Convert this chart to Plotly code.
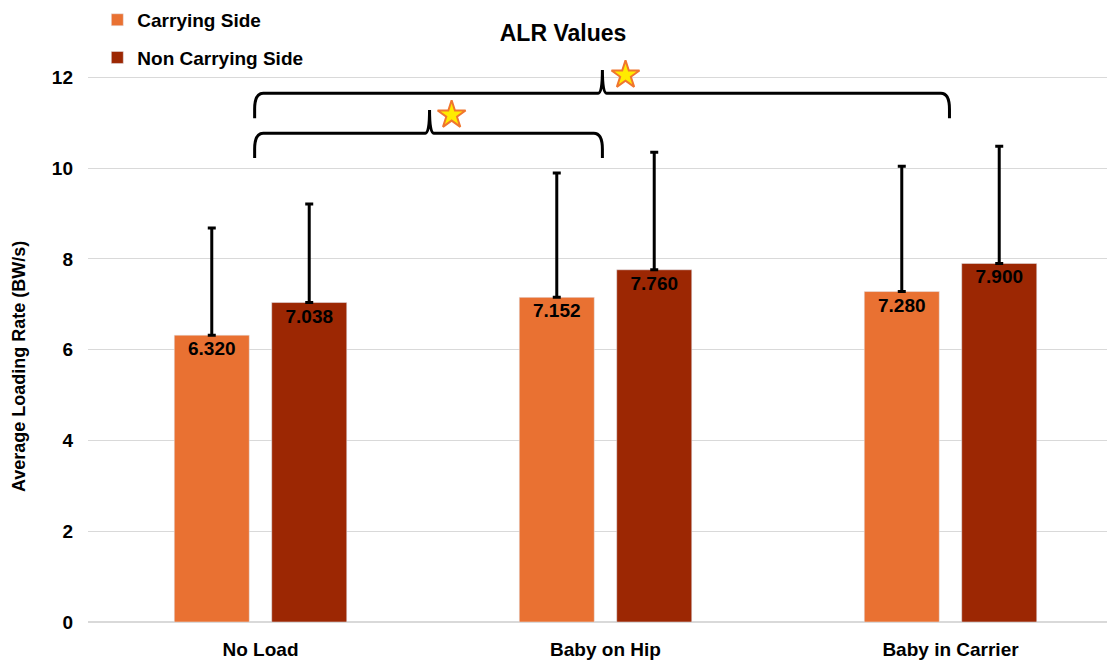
import plotly.graph_objects as go

categories = ["No Load", "Baby on Hip", "Baby in Carrier"]
carrying = [6.320, 7.152, 7.280]
non_carrying = [7.038, 7.760, 7.900]
carrying_err = [2.36, 2.74, 2.76]
non_carrying_err = [2.17, 2.59, 2.58]

# significance braces: (x start, x end, tip x, y horizontal, y ends, y tip)
braces = [
    (-0.017, 0.991, 0.49, 10.77, 10.22, 11.28),
    (-0.017, 1.997, 0.991, 11.65, 11.10, 12.16),
]
star_x = [0.554, 1.058]
star_y = [11.17, 12.05]

FONT = "Liberation Sans"
xs = list(range(len(categories)))

fig = go.Figure()
fig.add_trace(go.Bar(
    x=xs, y=carrying, name="Carrying Side", marker_color="#E97132",
    legendgroup="a",
    error_y=dict(type="data", symmetric=False, array=carrying_err,
                 arrayminus=[0] * 3, color="black", thickness=3, width=4),
    texttemplate="<br>%{y:.3f}", textposition="inside", insidetextanchor="end",
    textfont=dict(color="black", size=19, family=FONT, weight="bold"),
    cliponaxis=False,
))
fig.add_trace(go.Bar(
    x=xs, y=non_carrying, name="Non Carrying Side", marker_color="#9C2703",
    legendgroup="b",
    error_y=dict(type="data", symmetric=False, array=non_carrying_err,
                 arrayminus=[0] * 3, color="black", thickness=3, width=4),
    texttemplate="<br>%{y:.3f}", textposition="inside", insidetextanchor="end",
    textfont=dict(color="black", size=19, family=FONT, weight="bold"),
    cliponaxis=False,
))

for (x0, x1, xm, yh, yb, yt) in braces:
    cx = 0.025
    cy = 0.35
    tx = 0.012
    path = (f"M {x0},{yb} L {x0},{yh - cy} Q {x0},{yh} {x0 + cx},{yh} "
            f"L {xm - tx},{yh} Q {xm},{yh} {xm},{yt} "
            f"M {xm},{yt} Q {xm},{yh} {xm + tx},{yh} "
            f"L {x1 - cx},{yh} Q {x1},{yh} {x1},{yh - cy} L {x1},{yb}")
    fig.add_shape(type="path", path=path, xref="x", yref="y",
                  line=dict(color="black", width=3))

fig.add_trace(go.Scatter(
    x=star_x, y=star_y, mode="markers", showlegend=False, hoverinfo="skip",
    marker=dict(symbol="star", size=21, color="#FFEB00",
                line=dict(color="#F0762E", width=2)),
    cliponaxis=False,
))

fig.add_annotation(
    text="Average Loading Rate (BW/s)", textangle=-90,
    xref="paper", yref="paper", x=-0.066, y=0.44, showarrow=False,
    font=dict(family=FONT, size=18, color="black", weight="bold"),
    xanchor="center", yanchor="middle",
)

fig.update_layout(
    width=1115, height=665,
    margin=dict(l=80, r=0, t=33, b=51, autoexpand=False),
    paper_bgcolor="white", plot_bgcolor="white",
    barmode="group", bargap=0.435, bargroupgap=0.23,
    title=dict(text="ALR Values", x=555 / 1115, xref="container", xanchor="center",
               y=1 - 25 / 665, yref="container", yanchor="middle",
               font=dict(family=FONT, size=23, color="black", weight="bold")),
    legend=dict(x=0.009, y=1.069, xanchor="left", yanchor="top",
                font=dict(family=FONT, size=19, color="black", weight="bold"),
                bgcolor="rgba(0,0,0,0)", tracegroupgap=10, itemwidth=30),
    font=dict(family=FONT, color="black"),
    xaxis=dict(tickmode="array", tickvals=xs, ticktext=categories,
               range=[-0.5, 2.5], showgrid=False, zeroline=False,
               showline=False, ticks="", ticklabelstandoff=14,
               tickfont=dict(family=FONT, size=19, color="black", weight="bold")),
    yaxis=dict(range=[0, 12.8], dtick=2, tick0=0, showgrid=True,
               gridcolor="#D9D9D9", gridwidth=1, zeroline=True,
               zerolinecolor="#D9D9D9", zerolinewidth=2, showline=False,
               ticks="", ticklabelstandoff=14,
               tickfont=dict(family=FONT, size=19, color="black", weight="bold")),
)

fig.write_html("out.html")
